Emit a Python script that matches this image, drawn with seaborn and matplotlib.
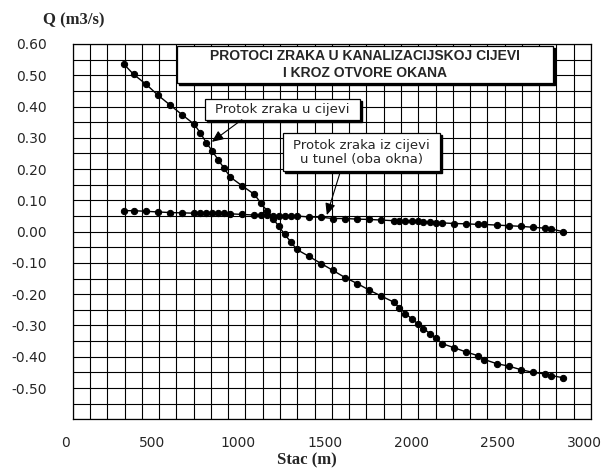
import numpy as np
import pandas as pd
import seaborn as sns
import matplotlib.pyplot as plt
import matplotlib.transforms as mtransforms
from matplotlib.patches import Rectangle
from matplotlib.ticker import MultipleLocator, FixedLocator, FuncFormatter

# stacionaze (m)
stac = [297, 352, 425, 492, 563, 635, 704, 738, 774, 807, 843, 877, 913, 982,
        1052, 1088, 1124, 1158, 1192, 1227, 1263, 1297, 1367, 1438, 1506, 1577,
        1647, 1716, 1786, 1857, 1891, 1926, 1961, 1996, 2030, 2068, 2102, 2137,
        2207, 2278, 2348, 2383, 2453, 2523, 2592, 2664, 2734, 2769, 2836]

# protok zraka u cijevi (m3/s)
q_cijev = [0.535, 0.503, 0.471, 0.437, 0.405, 0.373, 0.343, 0.316, 0.284, 0.258,
           0.229, 0.202, 0.174, 0.146, 0.119, 0.092, 0.067, 0.042, 0.018, -0.009,
           -0.033, -0.057, -0.079, -0.102, -0.124, -0.147, -0.166, -0.187, -0.206,
           -0.225, -0.243, -0.262, -0.278, -0.294, -0.310, -0.326, -0.340, -0.358,
           -0.371, -0.385, -0.397, -0.409, -0.422, -0.430, -0.441, -0.450, -0.455,
           -0.460, -0.467]

# protok zraka iz cijevi u tunel (m3/s)
q_tunel = [0.067, 0.067, 0.065, 0.063, 0.061, 0.060, 0.059, 0.059, 0.059, 0.059,
           0.058, 0.058, 0.057, 0.055, 0.053, 0.052, 0.052, 0.050, 0.051, 0.051,
           0.051, 0.050, 0.047, 0.046, 0.042, 0.042, 0.040, 0.039, 0.037, 0.035,
           0.035, 0.034, 0.034, 0.033, 0.031, 0.030, 0.029, 0.028, 0.026, 0.025,
           0.023, 0.023, 0.021, 0.019, 0.017, 0.014, 0.011, 0.009, 0.000]

y_ticks = [-0.5, -0.4, -0.3, -0.2, -0.1, 0.0, 0.1, 0.2, 0.3, 0.4, 0.5, 0.6]

df = pd.DataFrame({
    "Stac": stac + stac,
    "Q": q_cijev + q_tunel,
    "serija": ["cijev"] * len(stac) + ["tunel"] * len(stac),
})

sns.set_style("white")
plt.rcParams["font.family"] = ["DejaVu Sans"]

fig = plt.figure(figsize=(6.01, 4.69), dpi=100)
ax = fig.add_axes([0.121, 0.106, 0.8624, 0.8002])

sns.lineplot(data=df, x="Stac", y="Q", hue="serija", palette=["black", "black"],
             marker="o", markersize=4.5, markeredgecolor="black", linewidth=1,
             sort=False, legend=False, ax=ax)

ax.set_xlim(0, 3000)
ax.set_ylim(-0.6, 0.6)
ax.set_xlabel("")
ax.set_ylabel("")

ax.xaxis.set_major_locator(MultipleLocator(500))
ax.xaxis.set_minor_locator(MultipleLocator(100))
ax.yaxis.set_major_locator(FixedLocator(y_ticks))
ax.yaxis.set_minor_locator(MultipleLocator(0.05))
ax.yaxis.set_major_formatter(FuncFormatter(lambda v, p: f"{v:.2f}".replace("-0.00", "0.00")))

ax.tick_params(axis="x", which="both", direction="out", length=2.5, width=0.8,
               color="black", pad=9.5, labelsize=10)
ax.tick_params(axis="y", which="major", direction="out", length=6.3, width=0.8,
               color="black", pad=12.5, labelsize=10)
ax.tick_params(axis="y", which="minor", length=0)
ax.grid(which="both", color="black", linewidth=0.8)
for s in ax.spines.values():
    s.set_color("black")
    s.set_linewidth(0.9)

# x labels sit a little left of their ticks in the original
shift = mtransforms.ScaledTranslation(-7 / 100, 0, fig.dpi_scale_trans)
for lbl in ax.get_xticklabels():
    lbl.set_transform(lbl.get_transform() + shift)


def shadow_box(x0, y0, w, h):
    dx = 2 / 518.3
    dy = 2 / 375.3
    ax.add_patch(Rectangle((x0 + dx, y0 - dy), w, h, transform=ax.transAxes,
                           facecolor="black", edgecolor="black", zorder=5, clip_on=False))
    ax.add_patch(Rectangle((x0, y0), w, h, transform=ax.transAxes,
                           facecolor="white", edgecolor="black", linewidth=0.9,
                           zorder=5.1, clip_on=False))


shadow_box(0.2012, 0.8961, 0.7254, 0.0986)
ax.text(0.564, 0.9454, "PROTOCI ZRAKA U KANALIZACIJSKOJ CIJEVI\nI KROZ OTVORE OKANA",
        transform=ax.transAxes, ha="center", va="center", fontsize=10,
        fontweight="bold", family="Liberation Sans", linespacing=1.2, zorder=6)

shadow_box(0.2551, 0.7988, 0.2991, 0.0533)
ax.text(0.4048, 0.8255, "Protok zraka u cijevi", transform=ax.transAxes,
        ha="center", va="center", fontsize=9.5, zorder=6)

shadow_box(0.4063, 0.6616, 0.3023, 0.1005)
ax.text(0.5576, 0.7115, "Protok zraka iz cijevi\nu tunel (oba okna)",
        transform=ax.transAxes, ha="center", va="center", fontsize=9.5,
        linespacing=1.05, zorder=6)

arrow = dict(arrowstyle="-|>,head_length=0.5,head_width=0.22", color="black",
             lw=0.8, mutation_scale=14, shrinkA=0, shrinkB=0)
ax.annotate("", xy=(805, 0.287), xytext=(979, 0.358), arrowprops=arrow, zorder=7)
ax.annotate("", xy=(1471, 0.053), xytext=(1548, 0.190), arrowprops=arrow, zorder=7)

fig.text(73.7 / 601, 1 - 20.7 / 469, "Q (m3/s)", ha="center", va="center",
         family="Liberation Serif", fontweight="bold", fontsize=12)
fig.text(307 / 601, 1 - 460 / 469, "Stac (m)", ha="center", va="center",
         family="Liberation Serif", fontweight="bold", fontsize=12)

fig.savefig("out.png", dpi=100, facecolor="white")
